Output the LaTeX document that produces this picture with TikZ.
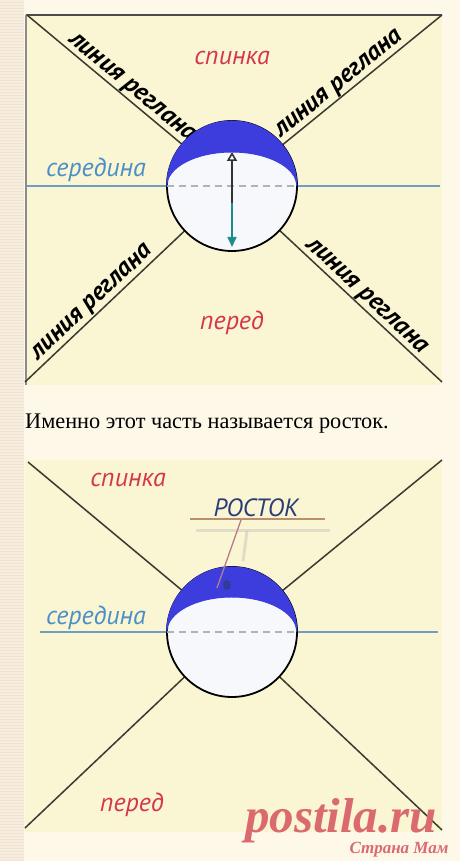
\documentclass[tikz,border=0pt]{standalone}
\usepackage{fontspec}
\usetikzlibrary{arrows.meta}
\newfontfamily\labfont{PT Sans}
\newfontfamily\rufont{Liberation Serif}
\definecolor{pagebg}{HTML}{FDF8E8}
\definecolor{stripbg}{HTML}{F6EDDF}
\definecolor{stripln}{HTML}{EFE3D2}
\definecolor{panelbg}{HTML}{FAF5D2}
\definecolor{diagc}{HTML}{3A3A30}
\definecolor{capblue}{HTML}{3D3DDE}
\definecolor{holec}{HTML}{F7F8FC}
\definecolor{midblue}{HTML}{6E9EC0}
\definecolor{midtext}{HTML}{4A8FC6}
\definecolor{labred}{HTML}{D4364E}
\definecolor{navy}{HTML}{2B3C78}
\definecolor{wm}{HTML}{DB6A70}
\definecolor{tealc}{HTML}{1E8C8C}
\definecolor{ptr}{HTML}{B47C8C}
\definecolor{uline}{HTML}{B8906E}
\tikzset{
  diag/.style={diagc, line width=1.5pt},
  reglab/.style={font=\labfont\bfseries\itshape\fontsize{25.5}{25.5}\selectfont, text=black, inner sep=0.5pt},
  redlab/.style={font=\labfont\itshape\fontsize{26}{26}\selectfont, text=labred},
  midlab/.style={font=\labfont\itshape\fontsize{26}{26}\selectfont, text=midtext},
  midline/.style={midblue, line width=1.6pt},
  hole/.style={circle, minimum size=130pt, inner sep=0pt},
}
\begin{document}
\begin{tikzpicture}[x=1pt,y=1pt]
\useasboundingbox (0,0) rectangle (460,861);
\fill[pagebg] (0,0) rectangle (460,861);
\fill[stripbg] (0,0) rectangle (24,861);
\foreach \k in {1,4,...,859} \draw[stripln, line width=0.8pt] (0,\k) -- (24,\k);

% ---------- top panel ----------
\fill[panelbg] (26,476) rectangle (442,846);
\draw[black!70, line width=1.8pt] (26,846) -- (442,846);
\draw[black!45, line width=1.6pt] (26,846) -- (26,476);
\coordinate (tl1) at (27,846);
\coordinate (tr1) at (442,846);
\coordinate (bl1) at (25,479);
\coordinate (br1) at (442,479);
\coordinate (ml1) at (27,675);
\coordinate (mr1) at (440,675);
\node[hole] (c1) at (232,675) {};
\draw[midline] (ml1) -- (mr1);
\draw[diag] (tl1) -- node[reglab, pos=0.63, sloped, above] {линия реглана} (c1);
\draw[diag] (c1) -- node[reglab, pos=0.40, sloped, above] {линия реглана} (tr1);
\draw[diag] (bl1) -- node[reglab, pos=0.47, sloped, above] {линия реглана} (c1);
\draw[diag] (c1) -- node[reglab, pos=0.49, sloped, above] {линия реглана} (br1);
\fill[holec] (c1) circle[radius=65];
\draw[black, line width=1.8pt] (c1) circle[radius=65];
\draw[gray!60, line width=1.2pt, dash pattern=on 7pt off 5pt] (c1.west) -- (c1.east);
\filldraw[capblue, line width=1pt] (c1.west) arc[start angle=180, end angle=0, radius=65]
   arc[start angle=0, end angle=180, x radius=65, y radius=34] -- cycle;
\coordinate (a0) at (232,675);
\coordinate (aup) at (232,709);
\coordinate (adn) at (232,614);
\coordinate (as) at (232,658);
\draw[tealc, line width=1.6pt, -{Triangle[length=10pt, width=9pt]}] (a0) -- (adn);
\draw[black!80, line width=1.6pt, -{Triangle[open, fill=white, length=9pt, width=10pt]}] (as) -- (aup);
\node[redlab] (sp1) at (232,803) {спинка};
\node[redlab] (pe1) at (232,538) {перед};
\node[midlab] (se1) at (96,691) {середина};

% ---------- text ----------
\node[anchor=base west, inner sep=0pt, font=\rufont\fontsize{22.3}{22.3}\selectfont] (txt) at (25,432) {Именно этот часть называется росток.};

% ---------- bottom panel ----------
\fill[panelbg] (25,29) rectangle (442,401);
\coordinate (tl2) at (28,399);
\coordinate (tr2) at (442,401);
\coordinate (bl2) at (25,33);
\coordinate (br2) at (442,31);
\coordinate (ml2) at (40,229);
\coordinate (mr2) at (438,229);
\node[hole] (c2) at (232,229) {};
\draw[midline] (ml2) -- (mr2);
\draw[diag] (tl2) -- (c2);
\draw[diag] (c2) -- (tr2);
\draw[diag] (bl2) -- (c2);
\draw[diag] (c2) -- (br2);
\fill[holec] (c2) circle[radius=65];
\draw[black, line width=1.8pt] (c2) circle[radius=65];
\draw[gray!60, line width=1.2pt, dash pattern=on 7pt off 5pt] (c2.west) -- (c2.east);
\filldraw[capblue, line width=1pt] (c2.west) arc[start angle=180, end angle=0, radius=65]
   arc[start angle=0, end angle=180, x radius=65, y radius=35] -- cycle;
\node[redlab] (sp2) at (128,381) {спинка};
\node[redlab] (pe2) at (132,56) {перед};
\node[midlab] (se2) at (96,243) {середина};
\node[font=\labfont\itshape\fontsize{25}{25}\selectfont, text=navy] (ro) at (256,353) {РОСТОК};
\coordinate (u1) at (190,342);
\coordinate (u2) at (325,342);
\coordinate (s1) at (196,330);
\coordinate (s2) at (330,330);
\coordinate (p1) at (241,341);
\coordinate (p2) at (217,273);
\coordinate (q1) at (247,330);
\coordinate (q2) at (243,300);
\draw[black!30, line width=3pt, opacity=0.35] (s1) -- (s2);
\draw[black!30, line width=3pt, opacity=0.35] (q1) -- (q2);
\draw[uline, line width=1.4pt] (u1) -- (u2);
\draw[ptr, line width=1.3pt] (p1) -- (p2);
\fill[navy!70!capblue] (227,276) ellipse[x radius=4, y radius=5];

% ---------- watermark ----------
\node[font=\rufont\bfseries\itshape\fontsize{49}{49}\selectfont, text=wm] (wm1) at (341,40) {postila.ru};
\node[font=\rufont\bfseries\itshape\fontsize{17}{17}\selectfont, text=wm] (wm2) at (399,11) {Страна Мам};
\end{tikzpicture}
\end{document}
